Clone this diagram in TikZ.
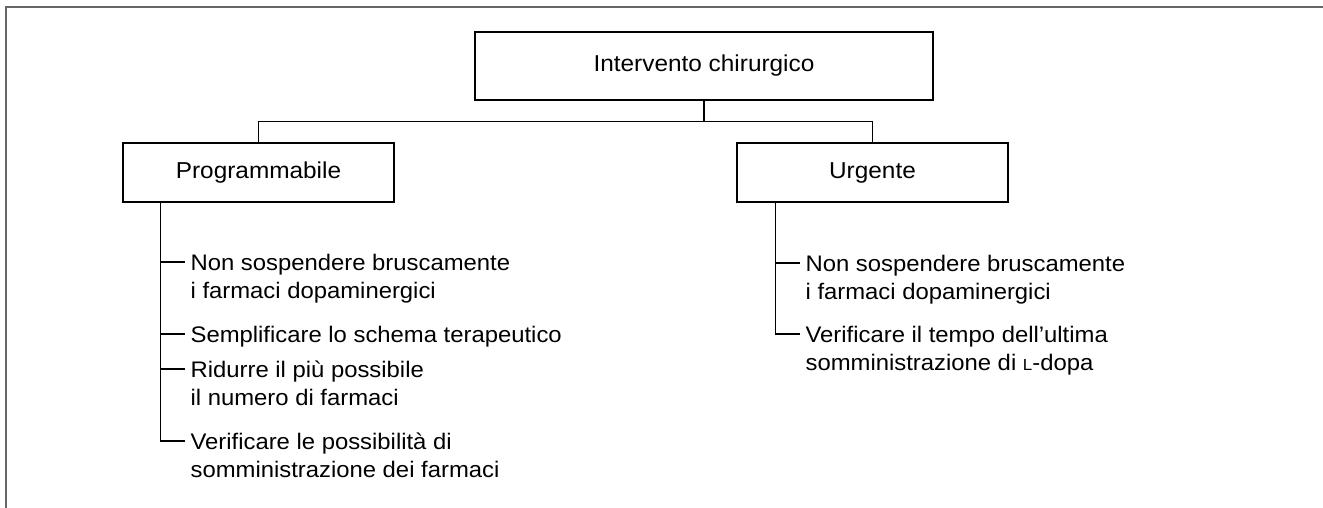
\documentclass[tikz,border=0pt]{standalone}
\usepackage{fontspec}
\setmainfont{Liberation Sans}[FakeStretch=1.06]
\usetikzlibrary{positioning}

\begin{document}
\begin{tikzpicture}[
    x=1pt, y=-1pt,
    line width=1.2pt,
    box/.style = {draw, inner sep=0pt, minimum width=271pt,
                  minimum height=59pt, font=\fontsize{23}{28.5}\selectfont},
    item/.style = {anchor=base west, align=left, inner sep=0pt,
                   font=\fontsize{22.5}{28.5}\selectfont},
                    ]
    \useasboundingbox (0,0) rectangle (1323,508);
    % frame
    \draw[line width=1.8pt, black!60] (6,508) -- (6,7) -- (1323,7);
    \node (top)  [box, minimum width=458pt, minimum height=68pt] at (704,66) {Intervento chirurgico};
    \node (prog) [box] at (258.5,172.5) {Programmabile};
    \node (urg)  [box] at (872.5,172.5) {Urgente};
    \draw (top.south) -- ++(0,21) coordinate (bar);
    \draw (prog.north) |- (bar) -| (urg.north);
    % programmabile (base = last line)
    \node (p1) [item] at (190,298.5) {Non sospendere bruscamente\\i farmaci dopaminergici};
    \node (p2) [item] at (190,342) {Semplificare lo schema terapeutico};
    \node (p3) [item] at (190,405.5) {Ridurre il più possibile\\il numero di farmaci};
    \node (p4) [item] at (190,477.5) {Verificare le possibilità di\\somministrazione dei farmaci};
    % urgente
    \node (u1) [item] at (805,299.5) {Non sospendere bruscamente\\i farmaci dopaminergici};
    \node (u2) [item] at (805,370.5) {Verificare il tempo dell’ultima\\somministrazione di {\fontsize{16}{16}\selectfont L}-dopa};
    \coordinate (ps) at ([xshift=38pt]prog.south west);
    \coordinate (us) at ([xshift=39pt]urg.south west);
    \foreach \n/\s in {p1/36.5,p2/8,p3/36.5,p4/36.5,u1/36.5,u2/36.5}
        \coordinate (\n-b) at ([xshift=-5pt,yshift=\s pt]\n.base west);
    \draw (ps) |- (p4-b);
    \foreach \n in {p1,p2,p3}
        \draw (ps |- \n-b) -- (\n-b);
    \draw (us) |- (u2-b);
    \draw (us |- u1-b) -- (u1-b);
\end{tikzpicture}
\end{document}
